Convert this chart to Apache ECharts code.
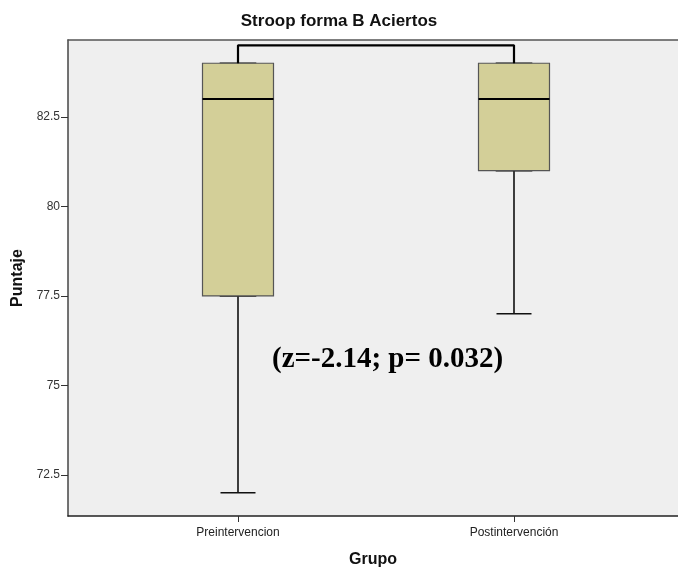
<!DOCTYPE html>
<html>
<head>
<meta charset="utf-8">
<script src="https://cdn.jsdelivr.net/npm/echarts@6/dist/echarts.min.js"></script>
<style>html,body{margin:0;padding:0;background:#fff}#c{width:678px;height:568px}</style>
</head>
<body>
<div id="c"></div>
<script>
const categories = ['Preintervencion', 'Postintervención'];
// [min, Q1, median, Q3, max]
const boxStats = [
  [72, 77.5, 83, 84, 84],
  [77, 81, 83, 84, 84]
];
const yTicks = [72.5, 75, 77.5, 80, 82.5];
const bracketY = 84.5;
const annotation = '(z=-2.14; p= 0.032)';
const yMin = 71.35, yMax = 84.65;

const chart = echarts.init(document.getElementById('c'));
const font = '"Liberation Sans", Arial, sans-serif';
const hiddenCat = i => ({ gridIndex: 1, type: 'category', data: categories, show: false, id: 'hx' + i });
chart.setOption({
  animation: false,
  title: {
    text: 'Stroop forma B Aciertos', left: 'center', top: 8,
    textStyle: { fontFamily: font, fontSize: 17, fontWeight: 'bold', color: '#111' }
  },
  grid: [
    { left: 68, right: 0, top: 40, bottom: 52, show: true, backgroundColor: '#efefef', borderWidth: 0, containLabel: false, outerBoundsMode: 'none' },
    { left: 100, width: 552, top: 40, bottom: 52, containLabel: false, outerBoundsMode: 'none' }
  ],
  xAxis: [
    {
      gridIndex: 0, type: 'value', min: -0.616, max: 1.594,
      axisLine: { show: true, onZero: false, lineStyle: { color: '#222', width: 1.5 } },
      axisTick: { show: true, customValues: [0, 1], length: 6, lineStyle: { color: '#333' } },
      axisLabel: { customValues: [0, 1], formatter: v => categories[Math.round(v)], color: '#222', fontFamily: font, fontSize: 12, margin: 11 },
      splitLine: { show: false },
      name: 'Grupo', nameLocation: 'middle', nameGap: 36,
      nameTextStyle: { fontFamily: font, fontSize: 16, fontWeight: 'bold', color: '#111' }
    },
    hiddenCat(1), hiddenCat(2), hiddenCat(3),
    {
      gridIndex: 0, type: 'value', position: 'top', min: -0.616, max: 1.594,
      axisLine: { show: true, onZero: false, lineStyle: { color: '#555', width: 1.5 } },
      axisTick: { show: false }, axisLabel: { show: false }, splitLine: { show: false }
    }
  ],
  yAxis: [
    {
      gridIndex: 0, type: 'value', min: yMin, max: yMax,
      axisLine: { show: true, onZero: false, lineStyle: { color: '#444', width: 1.5 } },
      axisTick: { show: true, customValues: yTicks, length: 7, lineStyle: { color: '#333' } },
      axisLabel: { customValues: yTicks, color: '#333', fontFamily: font, fontSize: 12, margin: 8 },
      splitLine: { show: false },
      name: 'Puntaje', nameLocation: 'middle', nameGap: 38,
      nameTextStyle: { fontFamily: font, fontSize: 16, fontWeight: 'bold', color: '#111' }
    },
    { gridIndex: 1, type: 'value', min: yMin, max: yMax, show: false }
  ],
  series: [
    {
      type: 'boxplot', xAxisIndex: 1, yAxisIndex: 1, z: 2,
      boxWidth: [35, 35],
      data: boxStats,
      itemStyle: { color: 'transparent', borderColor: '#111', borderWidth: 1.6 }
    },
    {
      type: 'boxplot', xAxisIndex: 2, yAxisIndex: 1, z: 3,
      boxWidth: [71, 71],
      data: boxStats.map(d => [d[1], d[1], d[2], d[3], d[3]]),
      itemStyle: { color: '#d3cf98', borderColor: '#555', borderWidth: 1.2 }
    },
    {
      type: 'boxplot', xAxisIndex: 3, yAxisIndex: 1, z: 4,
      boxWidth: [71, 71],
      data: boxStats.map(d => [d[2], d[2], d[2], d[2], d[2]]),
      itemStyle: { color: 'transparent', borderColor: '#000', borderWidth: 2 }
    },
    {
      type: 'line', xAxisIndex: 1, yAxisIndex: 1, z: 5,
      symbol: 'none',
      data: [[0, boxStats[0][4]], [0, bracketY], [1, bracketY], [1, boxStats[1][4]]],
      lineStyle: { color: '#000', width: 2.2 }
    }
  ],
  graphic: [{
    type: 'text', left: 272, top: 345,
    style: { text: annotation, font: 'bold 29px "Liberation Serif", "Times New Roman", serif', fill: '#000' }
  }]
});
</script>
</body>
</html>
